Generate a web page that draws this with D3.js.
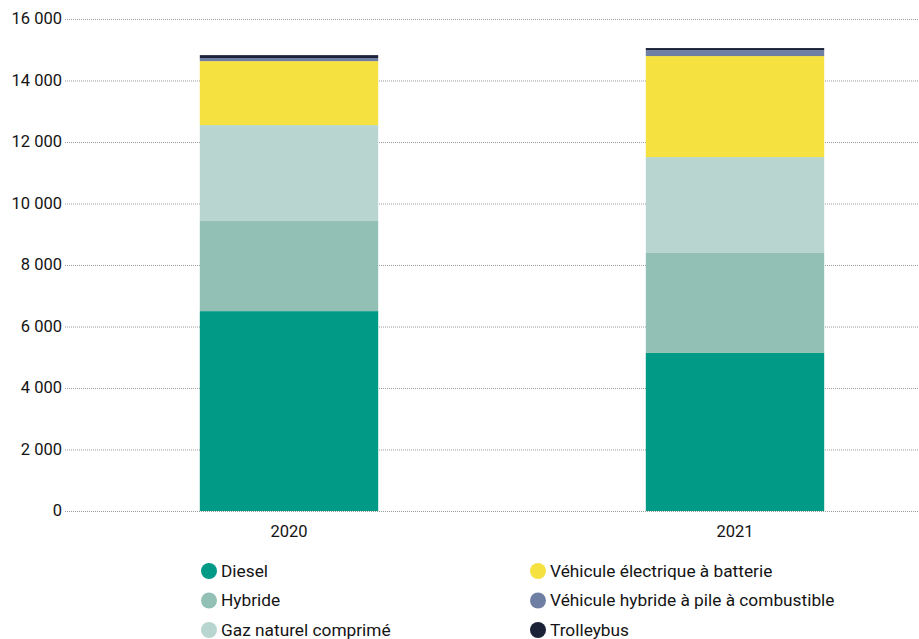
<!DOCTYPE html>
<html>
<head>
<meta charset="utf-8">
<script src="https://cdn.jsdelivr.net/npm/d3@7"></script>
<style>
  body { margin: 0; background: #fff; }
  text { font-family: Roboto, "Noto Sans", sans-serif; fill: #141414; }
</style>
</head>
<body>
<script>
var years = ["2020", "2021"];
var types = ["Diesel", "Hybride", "Gaz naturel comprimé", "Véhicule électrique à batterie", "Véhicule hybride à pile à combustible", "Trolleybus"];
var diesel = [6500, 5140];
var hybride = [2930, 3250];
var gnc = [3120, 3120];
var electrique = [2080, 3285];
var pileCombustible = [100, 195];
var trolleybus = [95, 65];
var yTicks = [0, 2000, 4000, 6000, 8000, 10000, 12000, 14000, 16000];
var colors = ["#009a87", "#93c0b4", "#b9d5d0", "#f5e13f", "#6f7fa3", "#1c2338"];

var series = [diesel, hybride, gnc, electrique, pileCombustible, trolleybus];
var table = years.map(function(y, i) {
  var row = { year: y };
  types.forEach(function(t, j) { row[t] = series[j][i]; });
  return row;
});

var W = 919, H = 639;
var svg = d3.select("body").append("svg").attr("width", W).attr("height", H);

var x = d3.scaleBand().domain(years).range([66, 958]).paddingInner(0.6).paddingOuter(0.3);
var y = d3.scaleLinear().domain([0, 16000]).range([511, 19]);

var fmt = function(d) { return d3.format(",")(d).replace(/,/g, " "); };

// grid
svg.append("g").selectAll("line")
  .data(yTicks)
  .enter().append("line")
  .attr("x1", 65).attr("x2", W)
  .attr("y1", function(d) { return y(d) + 0.5; })
  .attr("y2", function(d) { return y(d) + 0.5; })
  .attr("stroke", "#9a9a9a")
  .attr("stroke-width", 1)
  .attr("stroke-dasharray", "1,1");

svg.append("g").selectAll("text")
  .data(yTicks)
  .enter().append("text")
  .attr("x", 62)
  .attr("y", function(d) { return y(d) + 1; })
  .attr("text-anchor", "end")
  .attr("dominant-baseline", "middle")
  .attr("font-size", 16.5)
  .text(fmt);

var stacked = d3.stack().keys(types)(table);

svg.append("g").selectAll("g")
  .data(stacked)
  .enter().append("g")
  .attr("fill", function(d, i) { return colors[i]; })
  .selectAll("rect")
  .data(function(d) { return d; })
  .enter().append("rect")
  .attr("x", function(d) { return x(d.data.year); })
  .attr("width", x.bandwidth())
  .attr("y", function(d) { return y(d[1]); })
  .attr("height", function(d) { return y(d[0]) - y(d[1]); });

svg.append("g").selectAll("text")
  .data(years)
  .enter().append("text")
  .attr("x", function(d) { return x(d) + x.bandwidth() / 2; })
  .attr("y", 533)
  .attr("text-anchor", "middle")
  .attr("dominant-baseline", "middle")
  .attr("font-size", 16.5)
  .text(function(d) { return d; });

// legend
var leg = svg.append("g").selectAll("g")
  .data(types)
  .enter().append("g")
  .attr("transform", function(d, i) {
    return "translate(" + (i < 3 ? 209 : 538) + "," + (571 + (i % 3) * 29.5) + ")";
  });
leg.append("circle").attr("r", 8).attr("fill", function(d, i) { return colors[i]; });
leg.append("text").attr("x", 12).attr("y", 1).attr("dominant-baseline", "middle")
  .attr("font-size", 17.3).text(function(d) { return d; });
</script>
</body>
</html>
